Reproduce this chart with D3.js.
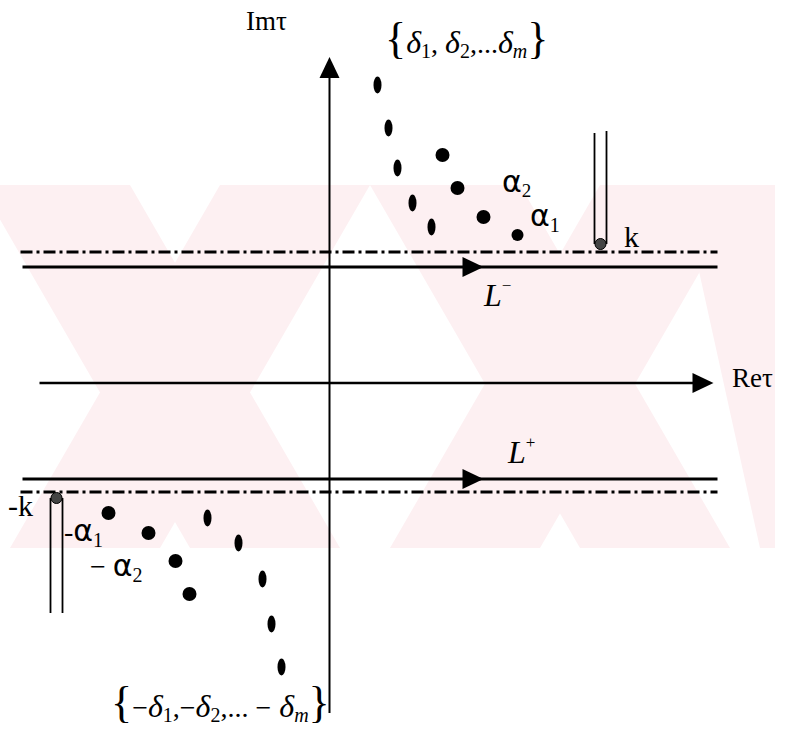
<!DOCTYPE html>
<html>
<head>
<meta charset="utf-8">
<script src="https://cdn.jsdelivr.net/npm/d3@7"></script>
<style>
  body { margin: 0; background: #fff; }
  text { font-family: "Liberation Serif", "Times New Roman", serif; fill: #000; }
</style>
</head>
<body>
<div id="chart"></div>
<script>
var svgWidth = 786;
var svgHeight = 729;

// complex tau-plane, 1 unit ~ 10px, origin at the axes crossing
var deltaUpper = [[4.8, 29.8], [5.9, 25.5], [6.8, 21.5], [8.3, 18.0], [10.2, 15.6]];
var alphaUpper = [[11.3, 22.8], [12.8, 19.5], [15.4, 16.6], [18.8, 14.8]];
var deltaLower = [[-12.2, -13.5], [-9.1, -16.0], [-6.7, -19.6], [-5.8, -24.1], [-4.8, -28.4]];
var alphaLower = [[-22.1, -13.0], [-18.1, -15.0], [-15.4, -17.8], [-14.0, -21.1]];
var branchPoints = [[27.1, 13.9], [-27.3, -11.5]];   // k and -k
var cutEnds = [25.0, -23.0];                           // end of each branch cut (Im)
var contourIm = [11.6, -9.6];                          // L-, L+
var stripIm = [13.1, -10.9];                           // dash-dot strip bounds
var lineRe = [-30.9, 38.8];
var reAxis = [-29.0, 38.4];
var imAxis = [-33.0, 32.6];

var x = d3.scaleLinear().domain([-32.95, 45.65]).range([0, svgWidth]);
var y = d3.scaleLinear().domain([38.3, -34.6]).range([0, svgHeight]);

var svg = d3.select("#chart")
  .append("svg")
  .attr("width", svgWidth)
  .attr("height", svgHeight);

// faint watermark behind the diagram
svg.append("clipPath").attr("id", "wmclip")
  .append("rect").attr("x", 0).attr("y", 185).attr("width", 775).attr("height", 363);
var wm = svg.append("g").attr("clip-path", "url(#wmclip)");
var bands = [
  [[-20, 185], [130, 185], [340, 548], [190, 548]],
  [[220, 185], [370, 185], [160, 548], [10, 548]],
  [[370, 185], [520, 185], [730, 548], [580, 548]],
  [[600, 185], [750, 185], [540, 548], [390, 548]],
  [[680, 185], [800, 185], [800, 548], [760, 548]],
  [[-120, 185], [-10, 185], [-10, 548], [-120, 548]]
];
wm.selectAll("polygon")
  .data(bands)
  .enter()
  .append("polygon")
  .attr("points", d => d.map(p => p.join(",")).join(" "))
  .attr("fill", "#fdf0f2");

function arrowHead(tipX, tipY, dir) {
  if (dir === "right") {
    return `M${tipX},${tipY} L${tipX - 21},${tipY - 10} L${tipX - 21},${tipY + 10} Z`;
  }
  return `M${tipX},${tipY} L${tipX - 10},${tipY + 21} L${tipX + 10},${tipY + 21} Z`;
}

// dash-dot strip lines
svg.selectAll(".strip")
  .data(stripIm)
  .enter()
  .append("line")
  .attr("class", "strip")
  .attr("x1", x(lineRe[0]))
  .attr("x2", x(lineRe[1]))
  .attr("y1", d => y(d))
  .attr("y2", d => y(d))
  .attr("stroke", "#000")
  .attr("stroke-width", 3)
  .attr("stroke-dasharray", "12,4,3,4");

// contours L- and L+
svg.selectAll(".contour")
  .data(contourIm)
  .enter()
  .append("line")
  .attr("class", "contour")
  .attr("x1", x(lineRe[0]) + 2)
  .attr("x2", x(lineRe[1]))
  .attr("y1", d => y(d))
  .attr("y2", d => y(d))
  .attr("stroke", "#000")
  .attr("stroke-width", 3);

svg.selectAll(".carrow")
  .data(contourIm)
  .enter()
  .append("path")
  .attr("class", "carrow")
  .attr("d", d => arrowHead(x(15.4), y(d), "right"));

// Re axis
svg.append("line")
  .attr("x1", x(reAxis[0])).attr("x2", x(reAxis[1]) - 15)
  .attr("y1", y(0)).attr("y2", y(0))
  .attr("stroke", "#000").attr("stroke-width", 2.5);
svg.append("path").attr("d", arrowHead(x(reAxis[1]), y(0), "right"));

// Im axis
svg.append("line")
  .attr("x1", x(0)).attr("x2", x(0))
  .attr("y1", y(imAxis[0])).attr("y2", y(imAxis[1]) + 15)
  .attr("stroke", "#000").attr("stroke-width", 2);
svg.append("path").attr("d", arrowHead(x(0), y(imAxis[1]), "up"));

// branch cuts (double lines) and branch points
branchPoints.forEach((p, i) => {
  [-0.6, 0.6].forEach(off => {
    svg.append("line")
      .attr("x1", x(p[0] + off)).attr("x2", x(p[0] + off))
      .attr("y1", y(p[1])).attr("y2", y(cutEnds[i]) - (off > 0 && i === 0 ? 2 : 0))
      .attr("stroke", "#000").attr("stroke-width", 1.8);
  });
});
svg.selectAll(".bp")
  .data(branchPoints)
  .enter()
  .append("circle")
  .attr("class", "bp")
  .attr("cx", d => x(d[0]))
  .attr("cy", d => y(d[1]))
  .attr("r", 5.5)
  .attr("fill", "#444")
  .attr("stroke", "#000")
  .attr("stroke-width", 1);

// poles
svg.selectAll(".delta")
  .data(deltaUpper.concat(deltaLower))
  .enter()
  .append("ellipse")
  .attr("class", "delta")
  .attr("cx", d => x(d[0]))
  .attr("cy", d => y(d[1]))
  .attr("rx", 4)
  .attr("ry", 8.5)
  .attr("fill", "#000");

svg.selectAll(".alpha")
  .data(alphaUpper.concat(alphaLower))
  .enter()
  .append("circle")
  .attr("class", "alpha")
  .attr("cx", d => x(d[0]))
  .attr("cy", d => y(d[1]))
  .attr("r", (d, i) => i === 3 ? 6 : 7)
  .attr("fill", "#000");

// labels
svg.append("text").attr("x", 246).attr("y", 30).attr("font-size", 27).text("Imτ");
svg.append("text").attr("x", 732).attr("y", 387).attr("font-size", 27).text("Reτ");
svg.append("text").attr("x", 624).attr("y", 247).attr("font-size", 30).text("k");
svg.append("text").attr("x", 8).attr("y", 516).attr("font-size", 30).text("-k");

function subLabel(tx, ty, parts) {
  var t = svg.append("text").attr("x", tx).attr("y", ty);
  parts.forEach(p => {
    t.append("tspan")
      .attr("font-size", p.size)
      .attr("font-style", p.italic ? "italic" : null)
      .attr("font-family", p.sans ? "'DejaVu Sans', sans-serif" : null)
      .attr("dy", p.dy || 0)
      .text(p.t);
  });
  return t;
}

subLabel(502, 192, [{t: "α", size: 30, sans: true}, {t: "2", size: 19, dy: 5}]);
subLabel(530, 226, [{t: "α", size: 30, sans: true}, {t: "1", size: 20, dy: 6}]);
subLabel(64, 541, [{t: "-", size: 28}, {t: "α", size: 30, sans: true}, {t: "1", size: 20, dy: 6}]);
subLabel(90, 576, [{t: "− ", size: 28}, {t: "α", size: 30, sans: true}, {t: "2", size: 20, dy: 6}]);

subLabel(484, 306, [{t: "L", size: 32, italic: true}, {t: "−", size: 17, dy: -15}]);
subLabel(508, 463, [{t: "L", size: 32, italic: true}, {t: "+", size: 17, dy: -15}]);

subLabel(385, 53, [
  {t: "{", size: 44},
  {t: "δ", size: 32, italic: true}, {t: "1", size: 20, dy: 5},
  {t: ", ", size: 28, dy: -5},
  {t: "δ", size: 32, italic: true}, {t: "2", size: 20, dy: 5},
  {t: ",...", size: 28, dy: -5},
  {t: "δ", size: 32, italic: true}, {t: "m", size: 20, italic: true, dy: 5},
  {t: "}", size: 44, dy: -5}
]);

subLabel(111, 717, [
  {t: "{", size: 44},
  {t: "−", size: 28}, {t: "δ", size: 32, italic: true}, {t: "1", size: 20, dy: 5},
  {t: ",", size: 28, dy: -5},
  {t: "−", size: 28}, {t: "δ", size: 32, italic: true}, {t: "2", size: 20, dy: 5},
  {t: ",... ", size: 28, dy: -5},
  {t: "−", size: 28}, {t: " δ", size: 32, italic: true}, {t: "m", size: 20, italic: true, dy: 5},
  {t: "}", size: 44, dy: -5}
]);
</script>
</body>
</html>
